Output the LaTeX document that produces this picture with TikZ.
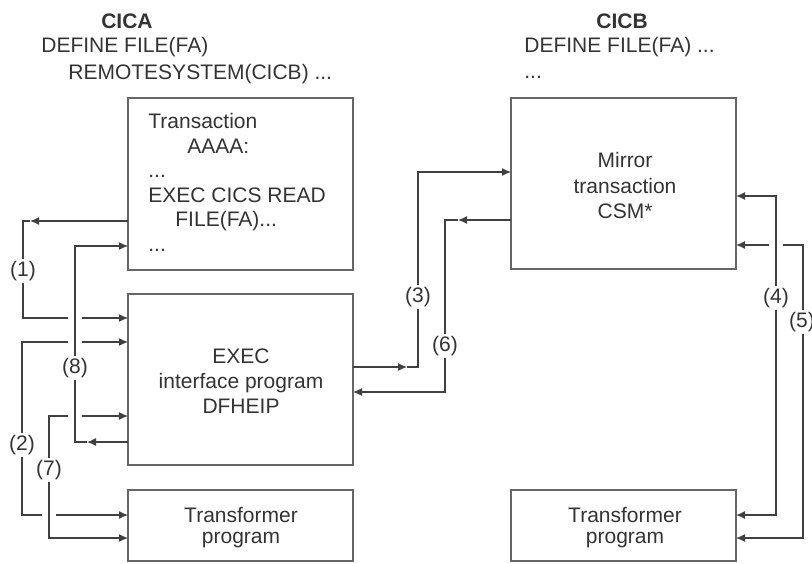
\documentclass[tikz,border=0pt]{standalone}
\usepackage{fontspec}
\setmainfont{Liberation Sans}
\usetikzlibrary{arrows.meta}
\begin{document}
\begin{tikzpicture}[x=0.5pt,y=-0.5pt,
  every node/.style={font=\fontsize{10.5pt}{12.25pt}\selectfont, text=black!80},
  box/.style={draw=black!60, line width=0.9pt, anchor=north west, minimum width=112.5pt, inner sep=0pt, outer sep=0pt},
  conn/.style={draw=black!75, line width=0.6pt, arrows={-Latex[length=4.5pt,width=4pt]}},
  conn2/.style={draw=black!75, line width=0.6pt, arrows={Latex[length=4.5pt,width=4pt]-Latex[length=4.5pt,width=4pt]}},
  bridge/.style={draw=white, line width=7pt},
  lbl/.style={fill=white, inner sep=1pt},
  txt/.style={inner sep=0pt, anchor=base west},
  head/.style={inner sep=0pt, anchor=base, font=\fontsize{10.5pt}{12.25pt}\selectfont\bfseries},
  block/.style={inner sep=0pt, anchor=north, align=center},
]
\useasboundingbox (0,0) rectangle (812,563);

% boxes
\node[box, minimum height=86pt] (trans) at (128,98) {};
\node[box, minimum height=85.5pt] (exec) at (128,294) {};
\node[box, minimum height=35.5pt] (tl) at (128,490) {};
\node[box, minimum height=85.5pt] (mirror) at (511,98) {};
\node[box, minimum height=35.5pt] (tr) at (511,490) {};

% headings
\node[head] (cica) at (127,28) {CICA};
\node[txt] (defa1) at (41,52) {DEFINE FILE(FA)};
\node[txt] (defa2) at (68,79) {REMOTESYSTEM(CICB) ...};
\node[head] (cicb) at (622,28) {CICB};
\node[txt] (defb1) at (524,52) {DEFINE FILE(FA) ...};
\node[txt] (defb2) at (524,78) {...};

% box texts
\node[inner sep=0pt, anchor=north west, align=left] (transtext) at (148,113)
  {Transaction\\\hspace*{19.5pt}AAAA:\\...\\EXEC CICS READ\\\hspace*{13.5pt}FILE(FA)...\\...};
\node[block, font=\fontsize{10.5pt}{12.5pt}\selectfont] (exectext) at (241,348) {EXEC\\interface program\\DFHEIP};
\node[block, font=\fontsize{10.5pt}{10.5pt}\selectfont] (tltext) at (241,507) {Transformer\\program};
\node[block, font=\fontsize{10.5pt}{12.75pt}\selectfont] (mirrortext) at (625,152) {Mirror\\transaction\\CSM*};
\node[block, font=\fontsize{10.5pt}{10.5pt}\selectfont] (trtext) at (625,507) {Transformer\\program};

% corner coordinates
\coordinate (k1t) at (23,221);  \coordinate (k1b) at (23,318);  \coordinate (k1m) at (30,221);
\coordinate (k8t) at (75,246);  \coordinate (k8b) at (75,442);  \coordinate (k8m) at (87,442);
\coordinate (k2t) at (22,342);  \coordinate (k2b) at (22,515);
\coordinate (k7t) at (49,416);  \coordinate (k7b) at (49,538);
\coordinate (k3b) at (418,367); \coordinate (k3t) at (418,172); \coordinate (k3m) at (407,367);
\coordinate (k6t) at (445,220); \coordinate (k6b) at (445,392); \coordinate (k6m) at (458,220);
\coordinate (k4t) at (776,196); \coordinate (k4b) at (776,515);
\coordinate (k5t) at (803,245); \coordinate (k5b) at (803,538);

% (2)
\draw[conn2] (exec.west |- k2t) -- (k2t) -- (k2b) -- (tl.west |- k2b);
% (7)
\draw[bridge, shorten <=40pt, shorten >=8pt] (k7t) -- (k7b);
\draw[conn2] (exec.west |- k7t) -- (k7t) -- (k7b) -- (tl.west |- k7b);
% (1)
\draw[conn] (trans.west |- k1t) -- (k1m);
\draw[conn] (k1m) -- (k1t) -- (k1b) -- (exec.west |- k1b);
% (8)
\draw[bridge, shorten <=20pt, shorten >=8pt] (k8t) -- (k8b);
\draw[conn] (exec.west |- k8b) -- (k8m);
\draw[conn] (k8m) -- (k8b) -- (k8t) -- (trans.west |- k8t);
% (3)
\draw[conn] (exec.east |- k3b) -- (k3m);
\draw[conn] (k3m) -- (k3b) -- (k3t) -- (mirror.west |- k3t);
% (6)
\draw[conn] (mirror.west |- k6t) -- (k6m);
\draw[conn] (k6m) -- (k6t) -- (k6b) -- (exec.east |- k6b);
% (5)
\draw[conn2] (mirror.east |- k5t) -- (k5t) -- (k5b) -- (tr.east |- k5b);
% (4)
\draw[bridge, shorten <=12pt, shorten >=100pt] (k4t) -- (k4b);
\draw[conn2] (mirror.east |- k4t) -- (k4t) -- (k4b) -- (tr.east |- k4b);

% labels
\node[lbl] (l1) at (23,271) {(1)};
\node[lbl] (l2) at (22,445) {(2)};
\node[lbl] (l3) at (418,297) {(3)};
\node[lbl] (l4) at (776,298) {(4)};
\node[lbl] (l5) at (802,322) {(5)};
\node[lbl] (l6) at (445,346) {(6)};
\node[lbl] (l7) at (49,470) {(7)};
\node[lbl] (l8) at (75,368) {(8)};
\end{tikzpicture}
\end{document}
